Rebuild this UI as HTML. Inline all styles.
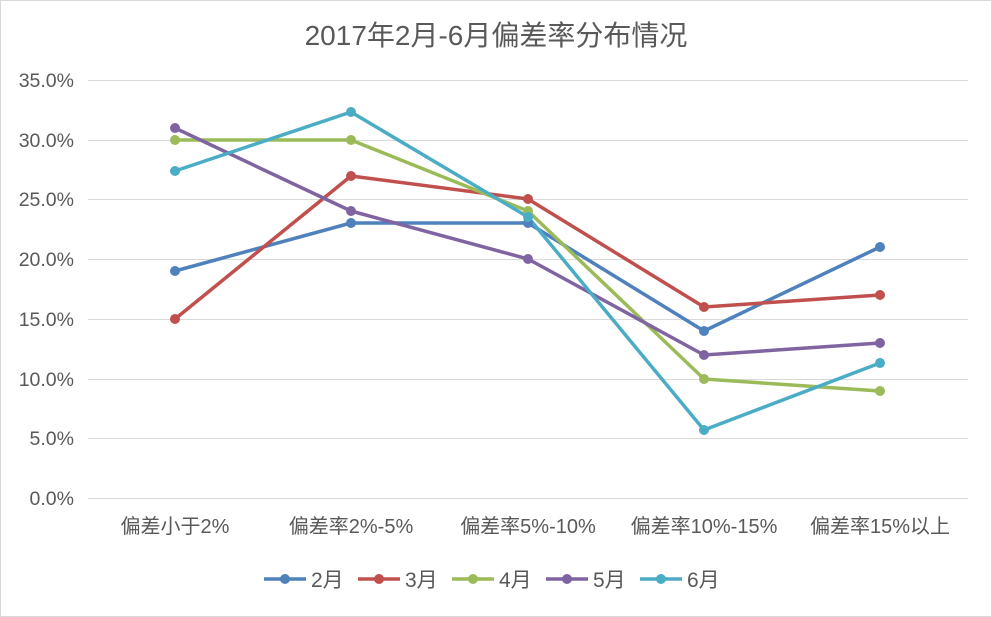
<!DOCTYPE html>
<html><head><meta charset="utf-8"><style>
html,body{margin:0;padding:0;background:#fff;}
svg{display:block;font-family:"Liberation Sans","Noto Sans CJK SC",sans-serif;}
</style></head><body>
<svg width="992" height="617" viewBox="0 0 992 617">
<rect x="0.5" y="0.5" width="991" height="616" fill="#fff" stroke="#d9d9d9"/>
<text x="496" y="45" font-size="28" fill="#595959" text-anchor="middle">2017年2月-6月偏差率分布情况</text>
<g stroke="#d9d9d9" stroke-width="1">
<line x1="88" x2="968" y1="80.5" y2="80.5"/>
<line x1="88" x2="968" y1="140.5" y2="140.5"/>
<line x1="88" x2="968" y1="199.5" y2="199.5"/>
<line x1="88" x2="968" y1="259.5" y2="259.5"/>
<line x1="88" x2="968" y1="319.5" y2="319.5"/>
<line x1="88" x2="968" y1="379.5" y2="379.5"/>
<line x1="88" x2="968" y1="438.5" y2="438.5"/>
<line x1="88" x2="968" y1="498.5" y2="498.5"/>
</g>
<g font-size="19.5" fill="#595959" text-anchor="end">
<text x="74" y="87">35.0%</text>
<text x="74" y="147">30.0%</text>
<text x="74" y="206">25.0%</text>
<text x="74" y="266">20.0%</text>
<text x="74" y="326">15.0%</text>
<text x="74" y="386">10.0%</text>
<text x="74" y="445">5.0%</text>
<text x="74" y="505">0.0%</text>
</g>
<g font-size="20" fill="#595959" text-anchor="middle">
<text x="175" y="533">偏差小于2%</text>
<text x="351" y="533">偏差率2%-5%</text>
<text x="528" y="533">偏差率5%-10%</text>
<text x="704" y="533">偏差率10%-15%</text>
<text x="880" y="533">偏差率15%以上</text>
</g>
<g fill="none" stroke-width="3.5" stroke-linejoin="round">
<polyline stroke="#4f81bd" points="175,271 351,223 528,223 704,331 880,247"/>
<polyline stroke="#c0504d" points="175,319 351,176 528,199 704,307 880,295"/>
<polyline stroke="#9bbb59" points="175,140 351,140 528,211 704,379 880,391"/>
<polyline stroke="#8064a2" points="175,128 351,211 528,259 704,355 880,343"/>
<polyline stroke="#4bacc6" points="175,171 351,112 528,217 704,430 880,363"/>
</g>
<g fill="#4f81bd"><circle cx="175" cy="271" r="5"/><circle cx="351" cy="223" r="5"/><circle cx="528" cy="223" r="5"/><circle cx="704" cy="331" r="5"/><circle cx="880" cy="247" r="5"/></g>
<g fill="#c0504d"><circle cx="175" cy="319" r="5"/><circle cx="351" cy="176" r="5"/><circle cx="528" cy="199" r="5"/><circle cx="704" cy="307" r="5"/><circle cx="880" cy="295" r="5"/></g>
<g fill="#9bbb59"><circle cx="175" cy="140" r="5"/><circle cx="351" cy="140" r="5"/><circle cx="528" cy="211" r="5"/><circle cx="704" cy="379" r="5"/><circle cx="880" cy="391" r="5"/></g>
<g fill="#8064a2"><circle cx="175" cy="128" r="5"/><circle cx="351" cy="211" r="5"/><circle cx="528" cy="259" r="5"/><circle cx="704" cy="355" r="5"/><circle cx="880" cy="343" r="5"/></g>
<g fill="#4bacc6"><circle cx="175" cy="171" r="5"/><circle cx="351" cy="112" r="5"/><circle cx="528" cy="217" r="5"/><circle cx="704" cy="430" r="5"/><circle cx="880" cy="363" r="5"/></g>
<g font-size="21" fill="#595959">
<line x1="264" x2="306" y1="579" y2="579" stroke="#4f81bd" stroke-width="3.5"/><circle cx="285" cy="579" r="5" fill="#4f81bd"/><text x="311" y="587">2月</text>
<line x1="358" x2="400" y1="579" y2="579" stroke="#c0504d" stroke-width="3.5"/><circle cx="379" cy="579" r="5" fill="#c0504d"/><text x="405" y="587">3月</text>
<line x1="452" x2="494" y1="579" y2="579" stroke="#9bbb59" stroke-width="3.5"/><circle cx="473" cy="579" r="5" fill="#9bbb59"/><text x="499" y="587">4月</text>
<line x1="546" x2="588" y1="579" y2="579" stroke="#8064a2" stroke-width="3.5"/><circle cx="567" cy="579" r="5" fill="#8064a2"/><text x="593" y="587">5月</text>
<line x1="640" x2="682" y1="579" y2="579" stroke="#4bacc6" stroke-width="3.5"/><circle cx="661" cy="579" r="5" fill="#4bacc6"/><text x="687" y="587">6月</text>
</g>
</svg>
</body></html>
